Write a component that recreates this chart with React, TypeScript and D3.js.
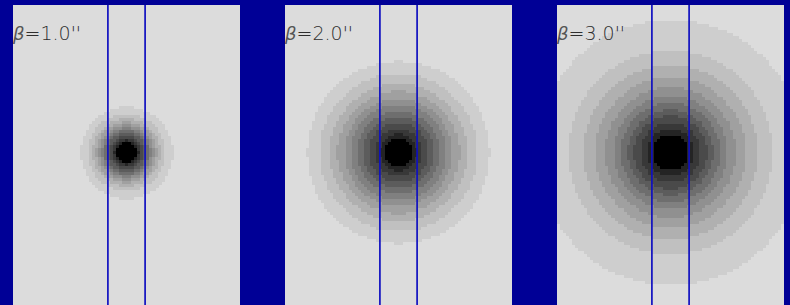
import React from "react";
import * as d3 from "d3";

// ---- data ----
const seeing = [1.0, 2.0, 3.0]; // arcsec
const labels = ["=1.0''", "=2.0''", "=3.0''"];
// outer radius (arcsec) of each grey level, from outermost to the black core
const radiiP1 = [1.53, 1.3, 1.14, 1.02, 0.92, 0.83, 0.74, 0.65, 0.57, 0.49, 0.41, 0.33];
const radiiP2 = [3.03, 2.62, 2.3, 2.04, 1.8, 1.6, 1.4, 1.2, 1.0, 0.8, 0.62, 0.47];
const radiiP3 = [4.43, 3.4, 2.9, 2.5, 2.17, 1.9, 1.67, 1.43, 1.23, 1.0, 0.8, 0.6];
const greyLevels = [206, 192, 176, 160, 144, 128, 110, 92, 74, 56, 36, 0];
const slitEdges = [-0.62, 0.62]; // arcsec

const W = 790;
const H = 305;
const panelLeft = [13, 285, 557];
const panelW = 227;
const panelTop = 5;
const panelH = 310;
const centerY = 152.5;
const pxPerArcsec = 30;
const cell = 227 / 75;

function Panel({ idx }: { idx: number }) {
  const radii = [radiiP1, radiiP2, radiiP3][idx];
  const x0 = panelLeft[idx];
  const cx = x0 + panelW / 2;
  const xs = d3.scaleLinear().domain([-1, 1]).range([cx - pxPerArcsec, cx + pxPerArcsec]);
  const ys = d3.scaleLinear().domain([-1, 1]).range([centerY - pxPerArcsec, centerY + pxPerArcsec]);
  const asc = radii.slice().reverse();
  const greys = greyLevels.slice().reverse();
  const thr = d3
    .scaleThreshold<number, number>()
    .domain(asc)
    .range([...greys, 220]);

  const nx = 75;
  const ny = Math.ceil(panelH / cell) + 2;
  const gx0 = cx - (nx / 2) * cell;
  const jc = Math.floor((centerY - panelTop) / cell);
  const gy0 = centerY - (jc + 0.5) * cell;
  const rects: JSX.Element[] = [];
  for (let j = 0; j < ny + 2; j++) {
    const yc = gy0 + (j + 0.5) * cell;
    const dy = ys.invert(yc);
    let runStart = -1;
    let runG = 220;
    const flush = (end: number) => {
      if (runStart >= 0 && runG !== 220) {
        rects.push(
          <rect
            key={`${j}-${runStart}`}
            x={gx0 + runStart * cell}
            y={yc - cell / 2}
            width={(end - runStart) * cell + 0.3}
            height={cell + 0.3}
            fill={`rgb(${runG},${runG},${runG})`}
          />
        );
      }
    };
    for (let i = 0; i < nx; i++) {
      const xc = gx0 + (i + 0.5) * cell;
      const dx = xs.invert(xc);
      const r = Math.sqrt(dx * dx + dy * dy);
      const g = thr(r);
      if (i === 0) {
        runStart = 0;
        runG = g;
      } else if (g !== runG) {
        flush(i);
        runStart = i;
        runG = g;
      }
    }
    flush(nx);
  }
  return (
    <g>
      <clipPath id={`clip${idx}`}>
        <rect x={x0} y={panelTop} width={panelW} height={panelH} />
      </clipPath>
      <rect x={x0} y={panelTop} width={panelW} height={panelH} fill="#dcdcdc" />
      <g clipPath={`url(#clip${idx})`} shapeRendering="crispEdges">
        {rects}
      </g>
      {slitEdges.map((s, k) => (
        <line
          key={k}
          x1={xs(s)}
          x2={xs(s)}
          y1={panelTop}
          y2={panelTop + panelH}
          stroke="#1010c0"
          strokeWidth={1.7}
        />
      ))}
      <text x={x0} y={40} fontSize={19} fill="#2e2e2e">
        <tspan fontStyle="italic" fontFamily="DejaVu Sans, sans-serif" fontWeight={200} fontSize={18} fill="#555">β</tspan>
        <tspan fontFamily="DejaVu Sans, sans-serif" fontWeight={200}>{labels[idx]}</tspan>
      </text>
    </g>
  );
}

export default function App() {
  return (
    <svg
      width={W}
      height={H}
      style={{ position: "absolute", left: 0, top: 0 }}
      data-seeing={seeing.join(",")}
    >
      <rect x={0} y={0} width={W} height={H} fill="#000096" />
      {[0, 1, 2].map((i) => (
        <Panel key={i} idx={i} />
      ))}
    </svg>
  );
}
